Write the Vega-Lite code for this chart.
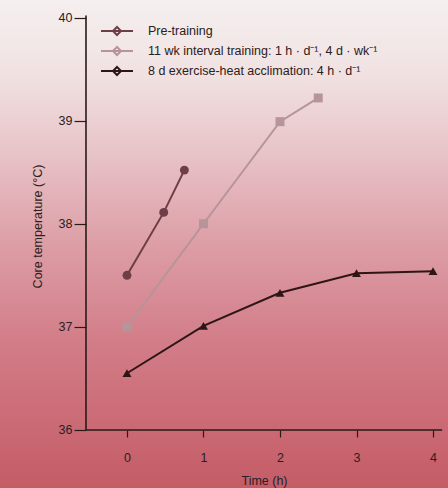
{
  "$schema": "https://vega.github.io/schema/vega-lite/v6.json",
  "width": 448,
  "height": 488,
  "autosize": "none",
  "padding": 0,
  "background": "#c45c66",
  "config": {
    "view": {
      "stroke": null,
      "fill": {"gradient": "linear", "x1": 0, "y1": 0, "x2": 0, "y2": 1,
        "stops": [
          {"offset": 0, "color": "#f5efef"},
          {"offset": 0.15, "color": "#f1e2e2"},
          {"offset": 0.3, "color": "#e8c6ca"},
          {"offset": 0.5, "color": "#dd9ea6"},
          {"offset": 0.7, "color": "#d27d88"},
          {"offset": 1, "color": "#c45c66"}
        ]}
    },
    "font": "Liberation Sans",
    "axis": {
      "grid": false,
      "domain": false,
      "zindex": 1,
      "tickColor": "#2a1a1a",
      "tickWidth": 1.2,
      "labelFont": "Liberation Sans",
      "labelFontSize": 12.5,
      "labelColor": "#2a2020",
      "titleFont": "Liberation Sans",
      "titleFontSize": 12.5,
      "titleFontWeight": "normal",
      "titleColor": "#2a2020"
    }
  },
  "datasets": {
    "temps": [
      {"series": "Pre-training", "time": 0, "temp": 37.5},
      {"series": "Pre-training", "time": 0.48, "temp": 38.11},
      {"series": "Pre-training", "time": 0.75, "temp": 38.52},
      {"series": "11 wk interval training: 1 h · d⁻¹, 4 d · wk⁻¹", "time": 0, "temp": 37.0},
      {"series": "11 wk interval training: 1 h · d⁻¹, 4 d · wk⁻¹", "time": 1, "temp": 38.0},
      {"series": "11 wk interval training: 1 h · d⁻¹, 4 d · wk⁻¹", "time": 2, "temp": 38.99},
      {"series": "11 wk interval training: 1 h · d⁻¹, 4 d · wk⁻¹", "time": 2.5, "temp": 39.22},
      {"series": "8 d exercise-heat acclimation: 4 h · d⁻¹", "time": 0, "temp": 36.55},
      {"series": "8 d exercise-heat acclimation: 4 h · d⁻¹", "time": 1, "temp": 37.01},
      {"series": "8 d exercise-heat acclimation: 4 h · d⁻¹", "time": 2, "temp": 37.33},
      {"series": "8 d exercise-heat acclimation: 4 h · d⁻¹", "time": 3, "temp": 37.52},
      {"series": "8 d exercise-heat acclimation: 4 h · d⁻¹", "time": 4, "temp": 37.54}
    ],
    "axislines": [
      {"x0": -0.536, "x1": -0.536, "y0": 36, "y1": 40.02},
      {"x0": -0.536, "x1": 4.12, "y0": 36, "y1": 36}
    ]
  },
  "layer": [
    {
      "data": {"name": "axislines"},
      "mark": {"type": "rule", "color": "#2a1a1a", "strokeWidth": 1.6},
      "encoding": {
        "x": {"field": "x0", "type": "quantitative", "scale": {"domain": [-1.66, 4.196], "nice": false, "zero": false},
          "axis": {"title": "Time (h)", "orient": "bottom", "offset": -58, "values": [0, 1, 2, 3, 4], "format": "d", "tickSize": 7, "labelPadding": 14, "titleX": 264, "titleY": 50, "titleBaseline": "middle"}},
        "x2": {"field": "x1"},
        "y": {"field": "y0", "type": "quantitative", "scale": {"domain": [35.437, 40.17], "nice": false, "zero": false},
          "axis": {"title": "Core temperature (°C)", "orient": "left", "offset": -86, "values": [36, 37, 38, 39, 40], "format": "d", "tickSize": 12, "labelPadding": 2, "titleX": -49, "titleY": 226, "titleAngle": -90, "titleBaseline": "middle"}},
        "y2": {"field": "y1"}
      }
    },
    {
      "data": {"name": "temps"},
      "mark": {"type": "line", "strokeWidth": 2},
      "encoding": {
        "x": {"field": "time", "type": "quantitative"},
        "y": {"field": "temp", "type": "quantitative"},
        "color": {"field": "series", "type": "nominal",
          "scale": {"domain": ["Pre-training", "11 wk interval training: 1 h · d⁻¹, 4 d · wk⁻¹", "8 d exercise-heat acclimation: 4 h · d⁻¹"],
                    "range": ["#6e3e46", "#b7939a", "#2e1616"]},
          "legend": {
            "orient": "none", "legendX": 108, "legendY": 22, "title": null,
            "symbolType": "M-2,0L2,0M0,-0.5L0.5,0L0,0.5L-0.5,0Z",
            "symbolSize": 256, "symbolStrokeWidth": 2, "labelOffset": 22, "rowPadding": 3,
            "labelFont": "Liberation Sans", "labelFontSize": 12.5, "labelColor": "#2a2020", "labelLimit": 400
          }},
        "detail": {"field": "series"}
      }
    },
    {
      "data": {"name": "temps"},
      "mark": {"type": "point", "filled": true, "opacity": 1, "size": 80},
      "encoding": {
        "x": {"field": "time", "type": "quantitative"},
        "y": {"field": "temp", "type": "quantitative"},
        "fill": {"field": "series", "type": "nominal",
          "scale": {"domain": ["8 d exercise-heat acclimation: 4 h · d⁻¹", "Pre-training", "11 wk interval training: 1 h · d⁻¹, 4 d · wk⁻¹"],
                    "range": ["#2e1616", "#6e3e46", "#b7939a"]},
          "legend": null},
        "shape": {"field": "series", "type": "nominal",
          "scale": {"domain": ["11 wk interval training: 1 h · d⁻¹, 4 d · wk⁻¹", "8 d exercise-heat acclimation: 4 h · d⁻¹", "Pre-training"],
                    "range": ["square", "triangle-up", "circle"]},
          "legend": null}
      }
    }
  ]
}
